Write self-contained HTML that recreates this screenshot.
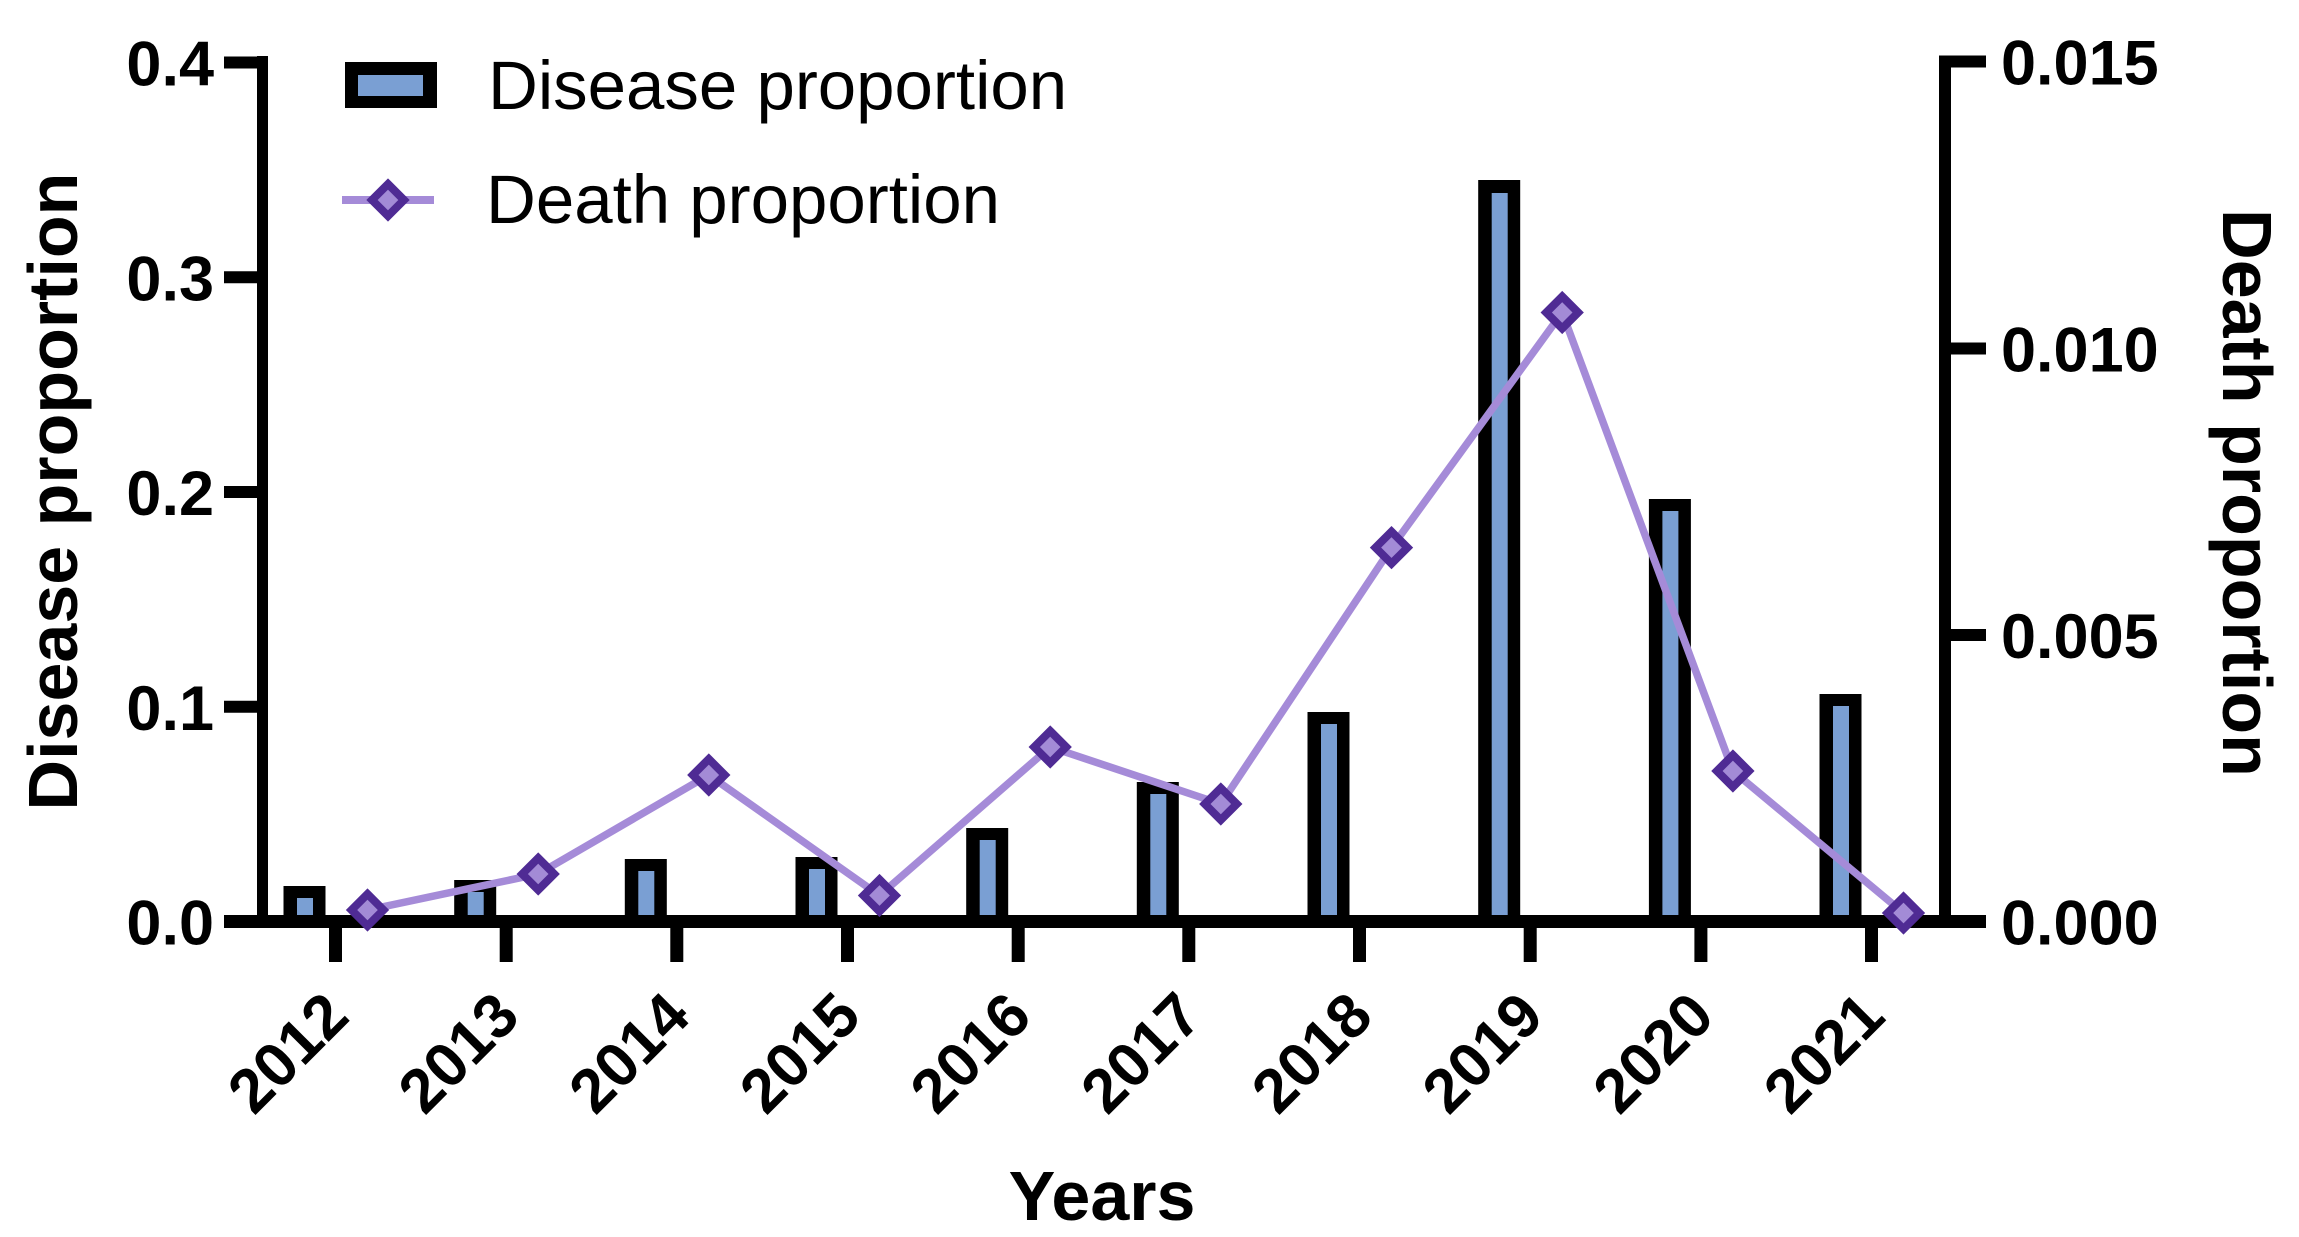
<!DOCTYPE html>
<html>
<head>
<meta charset="utf-8">
<style>
html,body{margin:0;padding:0;background:#fff;}
svg{display:block;}
text{font-family:"Liberation Sans",Arial,sans-serif;fill:#000;}
</style>
</head>
<body>
<svg width="2299" height="1237" viewBox="0 0 2299 1237" xmlns="http://www.w3.org/2000/svg">
<rect x="0" y="0" width="2299" height="1237" fill="#fff"/>

<!-- Bars: black outline -->
<g fill="#000">
<rect x="283.5" y="886" width="42" height="35"/>
<rect x="454.2" y="880" width="42" height="41"/>
<rect x="624.8" y="859" width="42" height="62"/>
<rect x="795.5" y="857" width="42" height="64"/>
<rect x="966.2" y="828" width="42" height="93"/>
<rect x="1136.8" y="782" width="42" height="139"/>
<rect x="1307.5" y="712" width="42" height="209"/>
<rect x="1478.2" y="180" width="42" height="741"/>
<rect x="1648.9" y="499" width="42" height="422"/>
<rect x="1819.5" y="694" width="42" height="227"/>
</g>
<!-- Bars: blue fill -->
<g fill="#7a9fd3">
<rect x="297" y="898" width="16" height="17"/>
<rect x="467.7" y="892" width="16" height="23"/>
<rect x="638.3" y="871" width="16" height="44"/>
<rect x="809" y="869" width="16" height="46"/>
<rect x="979.7" y="840" width="16" height="75"/>
<rect x="1150.3" y="794" width="16" height="121"/>
<rect x="1321" y="724" width="16" height="191"/>
<rect x="1491.7" y="193" width="16" height="722"/>
<rect x="1662.4" y="511" width="16" height="404"/>
<rect x="1833" y="706" width="16" height="209"/>
</g>

<!-- Axes -->
<g fill="#000">
<!-- left axis -->
<rect x="257" y="56" width="11" height="872"/>
<rect x="224" y="56.5" width="44" height="12"/>
<rect x="224" y="271.25" width="44" height="12"/>
<rect x="224" y="486" width="44" height="12"/>
<rect x="224" y="700.75" width="44" height="12"/>
<!-- right axis -->
<rect x="1939" y="55.5" width="12" height="872"/>
<rect x="1939" y="55.5" width="47" height="12"/>
<rect x="1939" y="342.5" width="47" height="12"/>
<rect x="1939" y="629" width="47" height="12"/>
<!-- x axis -->
<rect x="224" y="915" width="1762" height="13"/>
<!-- x ticks -->
<rect x="329" y="921" width="13" height="41"/>
<rect x="499.7" y="921" width="13" height="41"/>
<rect x="670.3" y="921" width="13" height="41"/>
<rect x="841" y="921" width="13" height="41"/>
<rect x="1011.7" y="921" width="13" height="41"/>
<rect x="1182.3" y="921" width="13" height="41"/>
<rect x="1353" y="921" width="13" height="41"/>
<rect x="1523.7" y="921" width="13" height="41"/>
<rect x="1694.4" y="921" width="13" height="41"/>
<rect x="1865" y="921" width="13" height="41"/>
</g>

<!-- Death line -->
<polyline fill="none" stroke="#a58bd8" stroke-width="7.5" stroke-linejoin="round"
 points="367.5,910 538.2,874 708.8,775 879.5,895.5 1050.2,747 1220.8,804 1391.5,547.6 1562.2,312.5 1732.9,771 1903.5,913"/>

<!-- Diamonds -->
<g fill="#a38bd6" stroke="#4f2b94" stroke-width="8" stroke-linejoin="miter">
<polygon points="367.5,894 383.5,910 367.5,926 351.5,910"/>
<polygon points="538.2,858 554.2,874 538.2,890 522.2,874"/>
<polygon points="708.8,759 724.8,775 708.8,791 692.8,775"/>
<polygon points="879.5,879.5 895.5,895.5 879.5,911.5 863.5,895.5"/>
<polygon points="1050.2,731 1066.2,747 1050.2,763 1034.2,747"/>
<polygon points="1220.8,788 1236.8,804 1220.8,820 1204.8,804"/>
<polygon points="1391.5,531.6 1407.5,547.6 1391.5,563.6 1375.5,547.6"/>
<polygon points="1562.2,296.5 1578.2,312.5 1562.2,328.5 1546.2,312.5"/>
<polygon points="1732.9,755 1748.9,771 1732.9,787 1716.9,771"/>
<polygon points="1903.5,897 1919.5,913 1903.5,929 1887.5,913"/>
</g>

<!-- Left tick labels -->
<g font-size="63" font-weight="bold" text-anchor="end">
<text x="214" y="85.5">0.4</text>
<text x="214" y="300.25">0.3</text>
<text x="214" y="515">0.2</text>
<text x="214" y="729.75">0.1</text>
<text x="214" y="944.5">0.0</text>
</g>
<!-- Right tick labels -->
<g font-size="63" font-weight="bold" text-anchor="start">
<text x="2001" y="84.5">0.015</text>
<text x="2001" y="371.5">0.010</text>
<text x="2001" y="658">0.005</text>
<text x="2001" y="944.5">0.000</text>
</g>

<!-- X tick labels -->
<g font-size="62" font-weight="bold" text-anchor="end">
<text transform="translate(351.5,1019) rotate(-45)">2012</text>
<text transform="translate(522.2,1019) rotate(-45)">2013</text>
<text transform="translate(692.8,1019) rotate(-45)">2014</text>
<text transform="translate(863.5,1019) rotate(-45)">2015</text>
<text transform="translate(1034.2,1019) rotate(-45)">2016</text>
<text transform="translate(1204.8,1019) rotate(-45)">2017</text>
<text transform="translate(1375.5,1019) rotate(-45)">2018</text>
<text transform="translate(1546.2,1019) rotate(-45)">2019</text>
<text transform="translate(1716.9,1019) rotate(-45)">2020</text>
<text transform="translate(1887.5,1019) rotate(-45)">2021</text>
</g>

<!-- Axis titles -->
<text font-size="70" font-weight="bold" text-anchor="middle" x="1102" y="1220">Years</text>
<text font-size="70" font-weight="bold" text-anchor="middle" transform="translate(77,491.5) rotate(-90)">Disease proportion</text>
<text font-size="70" font-weight="bold" text-anchor="middle" transform="translate(2223,493) rotate(90)">Death proportion</text>

<!-- Legend -->
<rect x="345" y="62" width="92" height="46" fill="#000"/>
<rect x="358" y="75" width="65" height="21" fill="#7a9fd3"/>
<rect x="342" y="196" width="92" height="8" fill="#a58bd8"/>
<polygon points="388,184 404,200 388,216 372,200" fill="#a38bd6" stroke="#4f2b94" stroke-width="8"/>
<text font-size="69" x="488" y="109">Disease proportion</text>
<text font-size="69" x="486" y="223">Death proportion</text>
</svg>
</body>
</html>
